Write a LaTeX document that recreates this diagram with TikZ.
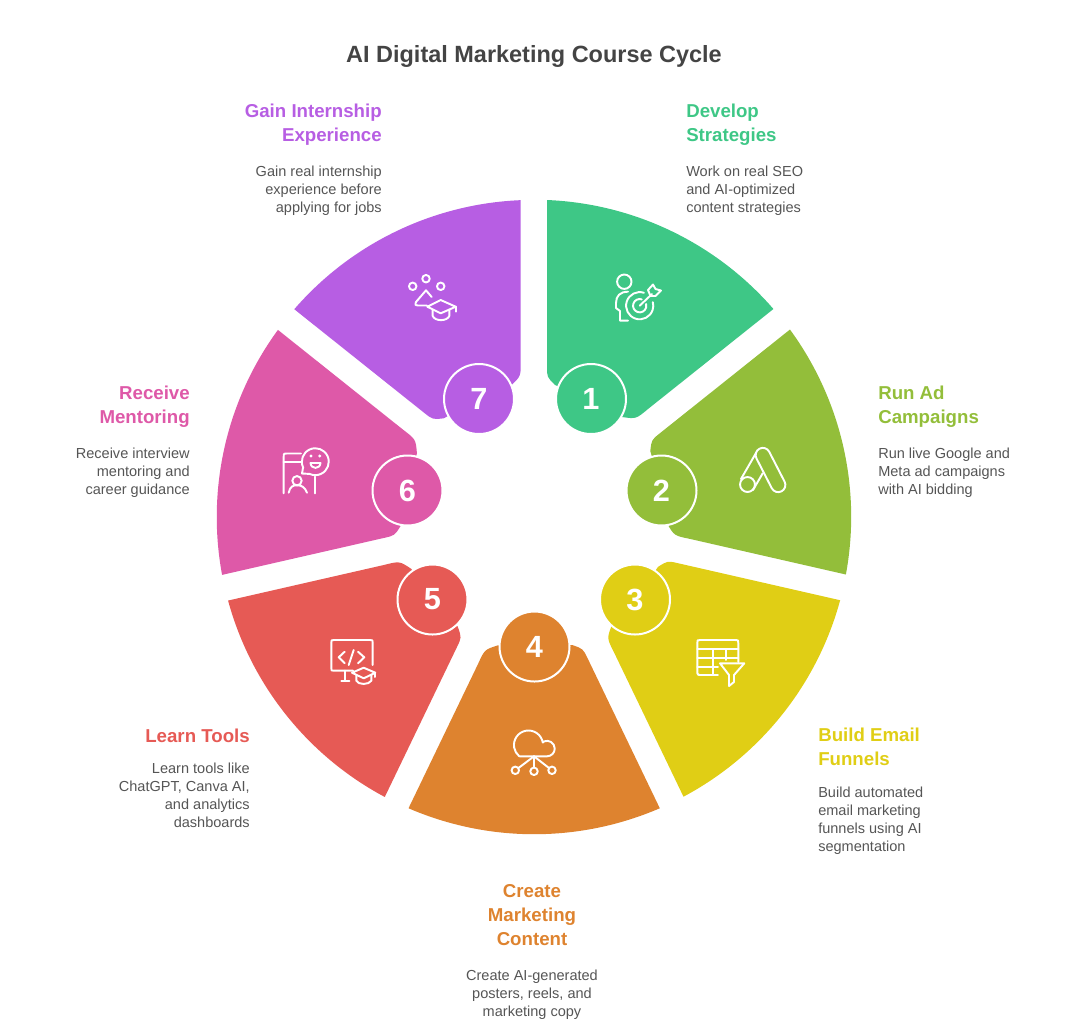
\documentclass[tikz,border=0pt]{standalone}
\usepackage{xcolor}
\usepackage{fontspec}
\setmainfont{Liberation Sans}
\usetikzlibrary{positioning,calc}

\definecolor{col1}{HTML}{3EC786}
\definecolor{col2}{HTML}{93BE3A}
\definecolor{col3}{HTML}{E0CE15}
\definecolor{col4}{HTML}{DE832F}
\definecolor{col5}{HTML}{E65A55}
\definecolor{col6}{HTML}{DE59A8}
\definecolor{col7}{HTML}{B75EE3}
\definecolor{bodygray}{HTML}{555555}
\definecolor{titlegray}{HTML}{444444}

\newcommand{\sectorfill}[2]{
	\fill[#1,rotate around={#2:(534,517)}] (547,200) arc[start angle=87.64,end angle=40.94,radius=237.75pt]
	-- (648,409) .. controls (636,419) .. (622,417) -- (590,399) -- (555,385) .. controls (547,377) .. (547,366.7) -- cycle;
}

\begin{document}
\begin{tikzpicture}[x=.75pt, y=-.75pt]
	\tikzstyle{badge}=[circle,draw=white,line width=1.5pt,minimum size=52.5pt,inner sep=0pt,text=white,font=\fontsize{23}{23}\selectfont\bfseries]
	\tikzstyle{headtext}=[inner sep=0pt,font=\fontsize{14}{18}\selectfont\bfseries,execute at begin node=\strut,execute at end node=\strut]
	\tikzstyle{desctext}=[inner sep=0pt,text=bodygray,font=\fontsize{10.9}{13.5}\selectfont,execute at begin node=\strut,execute at end node=\strut]
	\tikzstyle{iconline}=[draw=white,line width=1.45pt,line cap=round,line join=round]
	\useasboundingbox (0,0) rectangle (1067,1033);

	\node[text=titlegray,font=\fontsize{17.6}{18}\selectfont\bfseries] (title) at (534,56) {AI Digital Marketing Course Cycle};

	\sectorfill{col1}{0}
	\sectorfill{col2}{-51.43}
	\sectorfill{col3}{-102.86}
	\sectorfill{col4}{-154.29}
	\sectorfill{col5}{-205.71}
	\sectorfill{col6}{-257.14}
	\sectorfill{col7}{-308.57}

	\node[badge,fill=col1] (n1) at (591,399)     {1};
	\node[badge,fill=col2] (n2) at (661.5,490.5) {2};
	\node[badge,fill=col3] (n3) at (635,599.5)   {3};
	\node[badge,fill=col4] (n4) at (534.5,646.5) {4};
	\node[badge,fill=col5] (n5) at (432.5,599.5) {5};
	\node[badge,fill=col6] (n6) at (407.5,490.5) {6};
	\node[badge,fill=col7] (n7) at (479,399)     {7};

	\node[headtext,text=col1,anchor=north west,align=left] (h1) at (686,104) {Develop\\Strategies};
	\node[desctext,align=left] (d1)[below=12.4pt of h1.south west,anchor=north west] {Work on real SEO\\and AI-optimized\\content strategies};

	\node[headtext,text=col2,anchor=north west,align=left] (h2) at (878,386) {Run Ad\\Campaigns};
	\node[desctext,align=left] (d2)[below=12.4pt of h2.south west,anchor=north west] {Run live Google and\\Meta ad campaigns\\with AI bidding};

	\node[headtext,text=col3,anchor=north west,align=left] (h3) at (818,728) {Build Email\\Funnels};
	\node[desctext,align=left] (d3)[below=10.1pt of h3.south west,anchor=north west] {Build automated\\email marketing\\funnels using AI\\segmentation};

	\node[headtext,text=col4,anchor=north,align=center] (h4) at (532,884) {Create\\Marketing\\Content};
	\node[desctext,align=center] (d4)[below=12.4pt of h4.south] {Create AI-generated\\posters, reels, and\\marketing copy};

	\node[headtext,text=col5,anchor=north east,align=right] (h5) at (250,725) {Learn Tools};
	\node[desctext,align=right] (d5)[below=9.75pt of h5.south east,anchor=north east] {Learn tools like\\ChatGPT, Canva AI,\\and analytics\\dashboards};

	\node[headtext,text=col6,anchor=north east,align=right] (h6) at (190,386) {Receive\\Mentoring};
	\node[desctext,align=right] (d6)[below=12.4pt of h6.south east,anchor=north east] {Receive interview\\mentoring and\\career guidance};

	\node[headtext,text=col7,anchor=north east,align=right] (h7) at (382,104) {Gain Internship\\Experience};
	\node[desctext,align=right] (d7)[below=12.4pt of h7.south east,anchor=north east] {Gain real internship\\experience before\\applying for jobs};

	% target
	\draw[iconline] (624.3,281.7) circle[radius=5.4pt];
	\draw[iconline] (628,291.7) .. controls (620,291.7) and (616,296) .. (616,303) -- (616,308) -- (620,311) -- (620,320.7) -- (628,320.7);
	\draw[iconline] (639.7,305.7) ++(72:10.2pt) arc[start angle=72,end angle=375,radius=10.2pt];
	\draw[iconline] (639.7,305.7) ++(72:5pt) arc[start angle=72,end angle=375,radius=5pt];
	\draw[iconline] (639.7,305.7) -- (652,294);
	\draw[iconline] (648,290) -- (653,284.5) -- (655.5,289) -- (661,290.5) -- (655.5,296) -- (650.5,296) -- cycle;

	% ads
	\draw[iconline,rotate around={27.2:(770.5,470)},rounded corners=5.4pt] (763.3,446) rectangle (777.7,494);
	\draw[iconline] (747.5,484.5) circle[radius=5.6pt];
	\draw[iconline] (756,453) -- (741,479);
	\draw[iconline] (762.7,473.3) -- (753,490);

	% table and funnel
	\draw[iconline] (718,675) -- (700.3,675) .. controls (698,675) .. (697.3,673) -- (697.3,643) .. controls (697.3,640) .. (700.3,640) -- (735.3,640) .. controls (738.3,640) .. (738.3,643) -- (738.3,662);
	\draw[iconline] (697.3,649) -- (738.3,649);
	\draw[iconline] (697.3,658.3) -- (738.3,658.3);
	\draw[iconline] (697.3,666.7) -- (718,666.7);
	\draw[iconline] (713.3,649) -- (713.3,675);
	\draw[iconline] (726,649) -- (726,660);
	\draw[iconline] (720,663.3) -- (744.3,663.3) -- (734,675) -- (734,682) -- (729,686) -- (729,675) -- cycle;

	% cloud
	\draw[iconline] (520,756.3) -- (547,756.3) arc[start angle=-90,end angle=110,radius=5.8pt] -- (542.8,742.5) arc[start angle=10,end angle=230,radius=10.9pt] -- cycle;
	\draw[iconline] (534,756.3) -- (534,767.6);
	\draw[iconline] (534,756.3) -- (518.5,768);
	\draw[iconline] (534,756.3) -- (549,768);
	\draw[iconline] (515.3,770.3) circle[radius=2.8pt];
	\draw[iconline] (534,771.3) circle[radius=2.8pt];
	\draw[iconline] (552,770.3) circle[radius=2.8pt];

	% monitor and cap
	\draw[iconline] (353,670.7) -- (334,670.7) .. controls (331.3,670.7) .. (331.3,668) -- (331.3,643) .. controls (331.3,640) .. (334,640) -- (370,640) .. controls (372.7,640) .. (372.7,643) -- (372.7,665);
	\draw[iconline] (345.3,670.7) -- (345.3,681);
	\draw[iconline] (341.3,681) -- (349.3,681);
	\draw[iconline] (344.7,651.7) -- (338.7,657.3) -- (344.7,663.3);
	\draw[iconline] (353.7,650) -- (348.7,665);
	\draw[iconline] (358,651.7) -- (364.3,657.3) -- (358,663.3);
	\draw[iconline] (352,672.7) -- (363.7,667.7) -- (375.3,672.7) -- (363.7,678.3) -- cycle;
	\draw[iconline] (356.3,675) -- (356.3,680.7) .. controls (358,685) and (369,685) .. (371.3,680.7) -- (371.3,675);
	\draw[iconline] (375.3,672.7) -- (375.3,677);

	% phone and bubble
	\draw[iconline] (283.7,493.3) -- (283.7,457) .. controls (283.7,453.5) .. (287,453.5) -- (301,453.5);
	\draw[iconline] (283.7,461.7) -- (301,461.7);
	\draw[iconline] (315.3,476.7) -- (315.3,493.3);
	\draw[iconline] (297,480.7) circle[radius=3.5pt];
	\draw[iconline] (288.7,492.7) .. controls (290,486.5) and (293,485.2) .. (297,485.2) .. controls (302,485.2) and (305,487.5) .. (307,492.7);
	\draw[iconline] (315.3,461.7) ++(205:10.1pt) arc[start angle=205,end angle=-115,radius=10.1pt] -- (302,473.5) -- cycle;
	\fill[white] (311,456) circle[radius=1.2pt];
	\fill[white] (319.7,456) circle[radius=1.2pt];
	\draw[iconline] (310.5,463) -- (320.5,463) .. controls (320,469.5) and (311,469.5) .. cycle;

	% network and cap
	\draw[iconline] (412.7,286.3) circle[radius=2.8pt];
	\draw[iconline] (426,278.7) circle[radius=2.8pt];
	\draw[iconline] (440.7,286.3) circle[radius=2.8pt];
	\draw[iconline] (431.7,297) -- (426,290.3) -- (416,302) .. controls (415,305) .. (418,305.5) -- (427,305.5);
	\draw[iconline] (427.3,306.7) -- (440.7,300) -- (455.7,306.7) -- (440.7,313.3) -- cycle;
	\draw[iconline] (432.7,310) -- (432.7,316) .. controls (435,321.5) and (447,321.5) .. (449.3,316) -- (449.3,310);
	\draw[iconline] (455.7,306.7) -- (455.7,311.7);
\end{tikzpicture}
\end{document}
